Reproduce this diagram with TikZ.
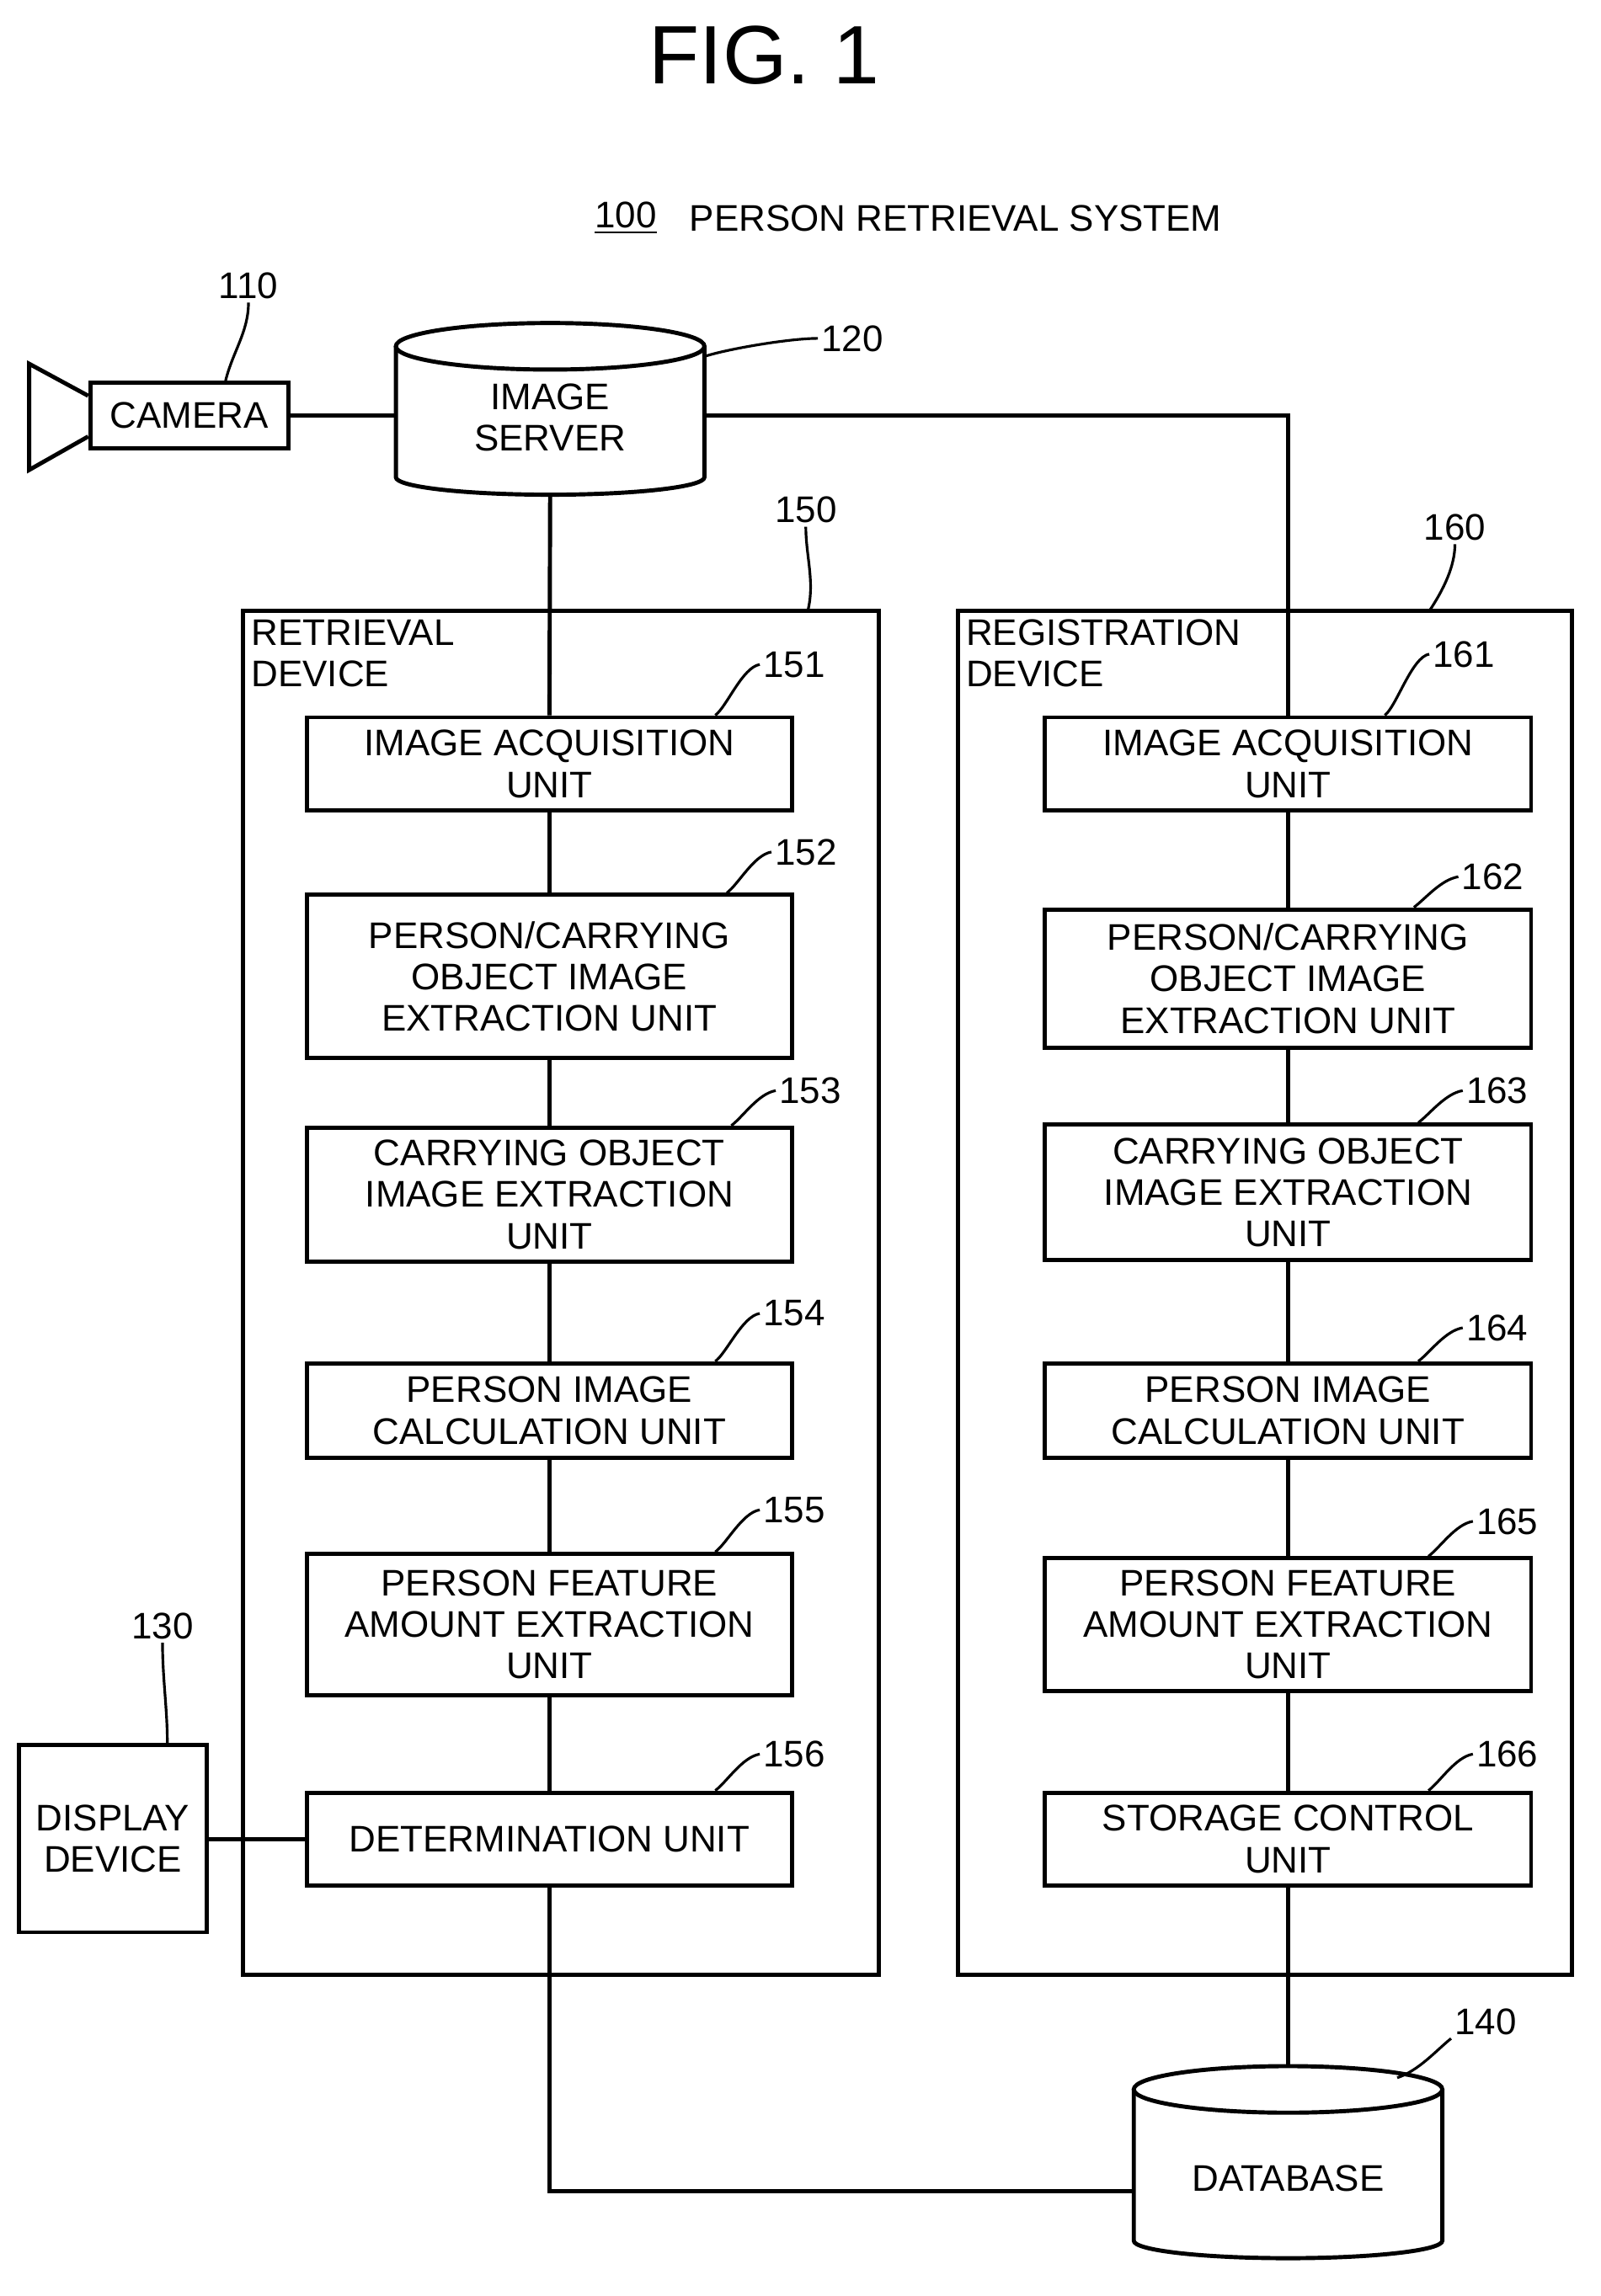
\documentclass[tikz,border=0pt]{standalone}
\usepackage{fontspec}
\setmainfont{Liberation Sans}
\usetikzlibrary{positioning, fit}

\tikzset{
  box/.style={draw, line width=1.4pt, inner sep=0pt},
  txt/.style={align=center, font=\fontsize{12.5}{14}\selectfont},
  lead/.style={line width=0.9pt},
  num/.style={font=\fontsize{12.5}{14}\selectfont, anchor=south west, inner sep=1pt},
  wire/.style={line width=1.4pt}
}
% unit box: name, x1, y1, x2, y2, text
\newcommand{\ubox}[6]{\node[box, fit={(#2,#3) (#4,#5)}] (#1) {};
  \node[txt] at (#1.center) {#6};}
% number label with leader: number, x, y, box name
\newcommand{\unum}[4]{\node[num] (l#1) at (#2,#3) {#1};
  \draw[lead] (l#1.west) .. controls +(-12,2) and +(8,-6) .. ([xshift=-15pt]l#1.west |- #4.north);}
% cylinder: name, x1, ytop, x2, ybottom
\newcommand{\cyl}[5]{
  \draw[line width=1.4pt] (#2,#3+16) -- (#2,#5-12) arc[start angle=180, end angle=0, x radius={(#4-#2)/2}, y radius=12] -- (#4,#3+16);
  \draw[line width=1.4pt] ({(#2+#4)/2},#3+16) ellipse[x radius={(#4-#2)/2}, y radius=16];
  \coordinate (#1-t) at ({(#2+#4)/2},#3);
  \coordinate (#1-b) at ({(#2+#4)/2},#5);
  \coordinate (#1-l) at (#2,{(#3+#5)/2+20});
  \coordinate (#1-r) at (#4,{(#3+#5)/2});}

\begin{document}
\begin{tikzpicture}[x=0.01728cm, y=-0.01728cm]
\useasboundingbox (0,0) rectangle (1100,1578);
\node[font=\fontsize{28}{30}\selectfont] (fig) at (525,38) {FIG. 1};
\node[txt] (sysnum) at (430,150) {\underline{100}};
\node[txt, right=4pt of sysnum] (sys) {PERSON RETRIEVAL SYSTEM};

% camera
\ubox{cam}{62}{263}{198}{308}{CAMERA}
\draw[line width=1.4pt] (cam.west|-0,272) -- (20,250) -- (20,323) -- (cam.west|-0,300);
\node[num] (l110) at (148,208) {110};
\draw[lead] (l110.south) .. controls +(0,20) and +(5,-20) .. (cam.north-|155,0);

% servers
\cyl{srv}{272}{222}{484}{340}
\node[txt] at (378,287) {IMAGE\\SERVER};
\node[num] (l120) at (562,244) {120};
\draw[lead] (l120.west) .. controls +(-20,0) and +(15,-5) .. (484,245);
\cyl{db}{779}{1420}{991}{1552}
\node[txt] at (885,1497) {DATABASE};
\node[num] (l140) at (997,1401) {140};
\draw[lead] (l140.south west) .. controls +(-10,8) and +(15,-5) .. (960,1428);

% devices
\ubox{ret}{167}{420}{604}{1357}{}
\node[txt, anchor=north west, align=left] at (ret.north west) {RETRIEVAL\\DEVICE};
\ubox{reg}{658}{420}{1080}{1357}{}
\node[txt, anchor=north west, align=left] at (reg.north west) {REGISTRATION\\DEVICE};
\node[num] (l150) at (530,362) {150};
\draw[lead] (l150.south) .. controls +(0,20) and +(5,-20) .. (555,420);
\node[num] (l160) at (976,374) {160};
\draw[lead] (l160.south) .. controls +(0,15) and +(10,-15) .. (982,420);
\ubox{disp}{13}{1199}{142}{1328}{DISPLAY\\DEVICE}
\node[num] (l130) at (88,1129) {130};
\draw[lead] (l130.south) .. controls +(0,25) and +(0,-25) .. (115,1199);

% retrieval units
\ubox{u151}{211}{493}{544}{557}{IMAGE ACQUISITION\\UNIT}
\ubox{u152}{211}{615}{544}{727}{PERSON/CARRYING\\OBJECT IMAGE\\EXTRACTION UNIT}
\ubox{u153}{211}{775}{544}{867}{CARRYING OBJECT\\IMAGE EXTRACTION\\UNIT}
\ubox{u154}{211}{937}{544}{1002}{PERSON IMAGE\\CALCULATION UNIT}
\ubox{u155}{211}{1068}{544}{1165}{PERSON FEATURE\\AMOUNT EXTRACTION\\UNIT}
\ubox{u156}{211}{1232}{544}{1296}{DETERMINATION UNIT}
% registration units
\ubox{u161}{718}{493}{1052}{557}{IMAGE ACQUISITION\\UNIT}
\ubox{u162}{718}{625}{1052}{720}{PERSON/CARRYING\\OBJECT IMAGE\\EXTRACTION UNIT}
\ubox{u163}{718}{773}{1052}{866}{CARRYING OBJECT\\IMAGE EXTRACTION\\UNIT}
\ubox{u164}{718}{937}{1052}{1002}{PERSON IMAGE\\CALCULATION UNIT}
\ubox{u165}{718}{1071}{1052}{1162}{PERSON FEATURE\\AMOUNT EXTRACTION\\UNIT}
\ubox{u166}{718}{1232}{1052}{1296}{STORAGE CONTROL\\UNIT}

\unum{151}{522}{468}{u151}
\unum{152}{530}{597}{u152}
\unum{153}{533}{761}{u153}
\unum{154}{522}{914}{u154}
\unum{155}{522}{1049}{u155}
\unum{156}{522}{1217}{u156}
\unum{161}{982}{461}{u161}
\unum{162}{1002}{614}{u162}
\unum{163}{1005}{761}{u163}
\unum{164}{1005}{924}{u164}
\unum{165}{1012}{1057}{u165}
\unum{166}{1012}{1217}{u166}

% connections
\draw[wire] (cam.east) -- (cam.east-|srv-l);
\draw[wire] (srv-r|-cam.east) -| (u161.north);
\draw[wire] (srv-b) -- (u151.north);
\foreach \a/\b in {151/152,152/153,153/154,154/155,155/156,161/162,162/163,163/164,164/165,165/166}
  \draw[wire] (u\a.south) -- (u\b.north);
\draw[wire] (disp.east|-u156.west) -- (u156.west);
\draw[wire] (u156.south) |- (db-l);
\draw[wire] (u166.south) -- (db-t);
\end{tikzpicture}
\end{document}
